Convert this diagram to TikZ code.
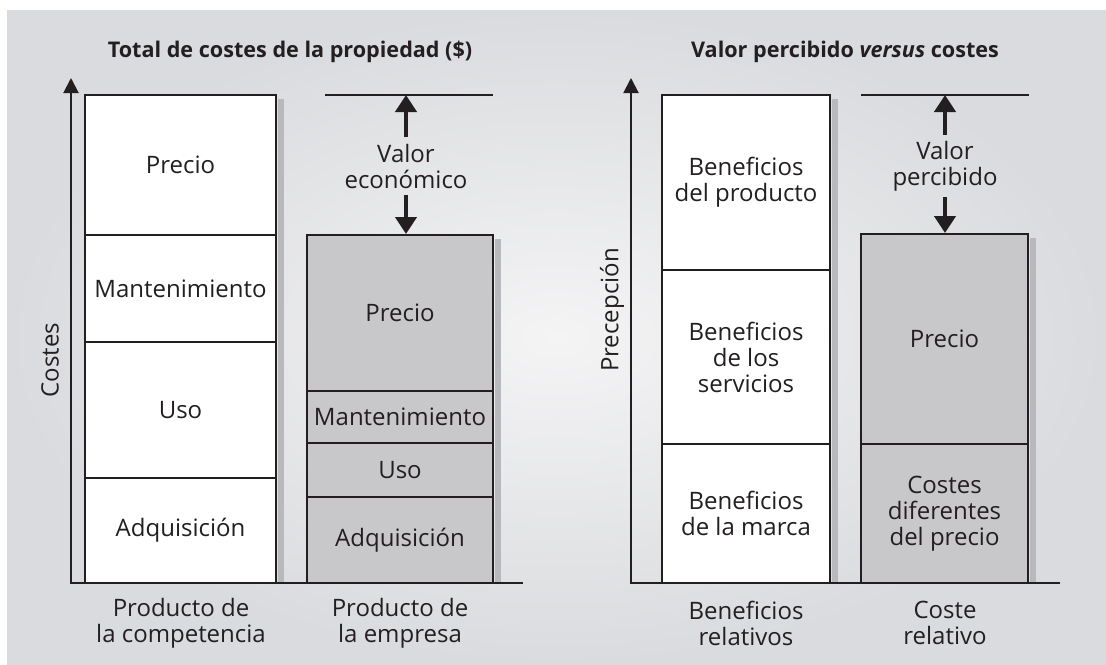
\documentclass[tikz,border=0pt]{standalone}
\usepackage{fontspec}
\setmainfont{Open Sans}
\usetikzlibrary{arrows.meta}
\definecolor{lineK}{RGB}{35,31,32}
\definecolor{bgDark}{RGB}{218,219,222}
\definecolor{bgLight}{RGB}{244,244,245}
\definecolor{boxG}{RGB}{200,200,202}
\definecolor{shadowG}{RGB}{184,185,189}
\begin{document}
\begin{tikzpicture}[x=0.5pt,y=-0.5pt,
    txtG/.style={font=\fontsize{12}{13}\selectfont,align=center,text=lineK},
    ttlG/.style={font=\fontsize{10.8}{13}\selectfont\bfseries,text=lineK},
    segW/.style={rectangle,draw=lineK,line width=1pt,fill=white,inner sep=0pt,txtG},
    segG/.style={segW,fill=boxG},
    axisArr/.style={-{Triangle[width=7.5pt,length=7.5pt]},line width=1pt,draw=lineK},
    valArr/.style={-{Triangle[width=10.5pt,length=8.5pt]},line width=2.3pt,draw=lineK},
    lvlLine/.style={line width=0.8pt,draw=lineK},
]
\useasboundingbox (0,0) rectangle (1106,664);
\shade[inner color=bgLight,outer color=bgDark] (7,10) rectangle (1106,664);
% total de costes
\node[ttlG] (tCost) at (290,52) {Total de costes de la propiedad (\$)};
\node[segW,minimum width=95.5pt,minimum height=70pt] (cPre) at (180.5,165) {Precio};
\node[segW,minimum width=95.5pt,minimum height=53.5pt] (cMan) at (180.5,288.5) {Mantenimiento};
\node[segW,minimum width=95.5pt,minimum height=68pt] (cUso) at (180.5,410) {Uso};
\node[segW,minimum width=95.5pt,minimum height=52.5pt] (cAdq) at (180.5,530.5) {Adquisición};
\node[segG,minimum width=93pt,minimum height=78pt] (ePre) at (400,313) {Precio};
\node[segG,minimum width=93pt,minimum height=26pt] (eMan) at (400,417) {Mantenimiento};
\node[segG,minimum width=93pt,minimum height=27pt] (eUso) at (400,470) {Uso};
\node[segG,minimum width=93pt,minimum height=43pt] (eAdq) at (400,540) {Adquisición};
\fill[shadowG] ([xshift=0.5pt,yshift=-2.5pt]cPre.north east) rectangle ([xshift=3.5pt]cAdq.south east);
\fill[shadowG] ([xshift=0.5pt,yshift=-2.5pt]ePre.north east) rectangle ([xshift=3.5pt]eAdq.south east);
\node[txtG,rotate=90] (yCost) at (50,360) {Costes};
\node[txtG] (lComp) at (181,623) {Producto de\\la competencia};
\node[txtG] (lEmp) at (400,623) {Producto de\\la empresa};
\coordinate (oL) at (71,583);
\coordinate (tipL) at (71,78);
\coordinate (endL) at (523,583);
\draw[axisArr] (endL) -- (oL) -- (tipL);
\coordinate (lnLa) at (325,95);
\coordinate (lnLb) at (493,95);
\draw[lvlLine] (lnLa) -- (lnLb);
\node[txtG,inner sep=3pt] (vEco) at (406,166) {Valor\\económico};
\draw[valArr] (vEco.north) -- (vEco.north |- lnLa);
\draw[valArr] (vEco.south) -- (ePre.north -| vEco.south);
% valor percibido
\node[ttlG] (tPerc) at (845,52) {Valor percibido \textit{versus} costes};
\node[segW,minimum width=84pt,minimum height=87.5pt] (bPro) at (746,182.5) {Beneficios\\del producto};
\node[segW,minimum width=84pt,minimum height=87pt] (bSer) at (746,357) {Beneficios\\de los\\servicios};
\node[segW,minimum width=84pt,minimum height=69.5pt] (bMar) at (746,513.5) {Beneficios\\de la marca};
\node[segG,minimum width=83.5pt,minimum height=105pt] (rPre) at (944.5,339) {Precio};
\node[segG,minimum width=83.5pt,minimum height=69.5pt] (rCos) at (944.5,513.5) {Costes\\diferentes\\del precio};
\fill[shadowG] ([xshift=0.5pt,yshift=-2.5pt]bPro.north east) rectangle ([xshift=3.5pt]bMar.south east);
\fill[shadowG] ([xshift=0.5pt,yshift=-2.5pt]rPre.north east) rectangle ([xshift=3.5pt]rCos.south east);
\node[txtG,rotate=90] (yPerc) at (612,310) {Precepción};
\node[txtG] (lBen) at (746,623) {Beneficios\\relativos};
\node[txtG] (lCos) at (945,623) {Coste\\relativo};
\coordinate (oR) at (631,583);
\coordinate (tipR) at (631,78);
\coordinate (endR) at (1060,583);
\draw[axisArr] (endR) -- (oR) -- (tipR);
\coordinate (lnRa) at (861,95);
\coordinate (lnRb) at (1029,95);
\draw[lvlLine] (lnRa) -- (lnRb);
\node[txtG,inner sep=3pt] (vPer) at (945,166) {Valor\\percibido};
\draw[valArr] (vPer.north) -- (vPer.north |- lnRa);
\draw[valArr] (vPer.south) -- (rPre.north -| vPer.south);
\end{tikzpicture}
\end{document}
